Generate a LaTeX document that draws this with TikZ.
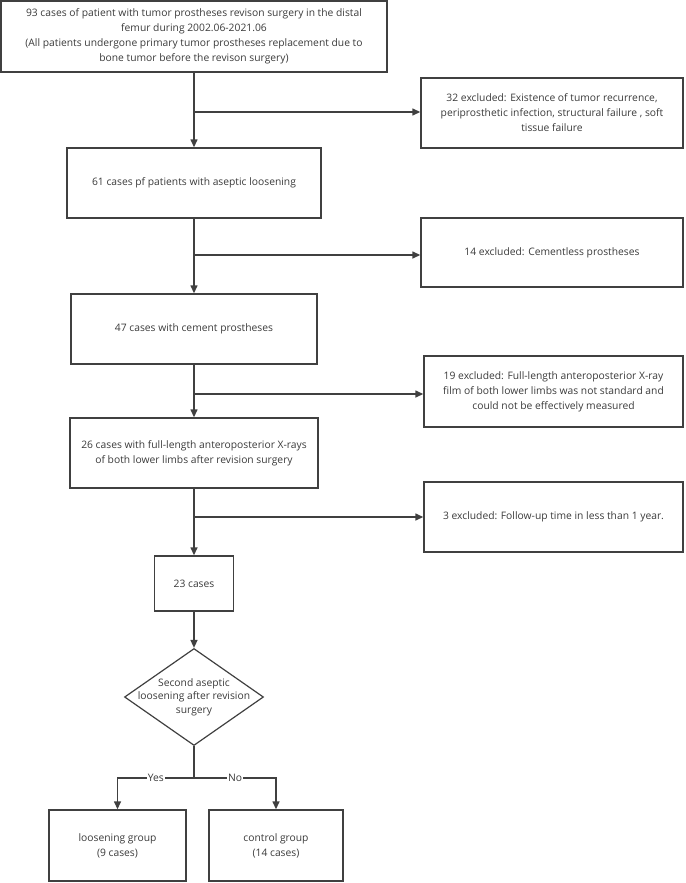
\documentclass[tikz,border=0pt]{standalone}
\usepackage{fontspec}
\setmainfont{Open Sans}
\usetikzlibrary{shapes.geometric,arrows.meta}
\definecolor{ln}{HTML}{404040}
\definecolor{tx}{HTML}{3A3A3A}
\tikzset{
  box/.style={draw=ln,line width=1.4pt,rectangle,align=center,inner sep=2pt,
    font=\fontsize{10.3}{15}\selectfont,text=tx},
  dia/.style={draw=ln,line width=1.2pt,diamond,inner sep=0pt},
  dtext/.style={align=center,inner sep=0pt,font=\fontsize{10.3}{13.5}\selectfont,text=tx},
  arr/.style={draw=ln,line width=1.4pt,-{Triangle[length=8pt,width=7pt]}},
  seg/.style={draw=ln,line width=1.4pt},
  lab/.style={fill=white,inner sep=1pt,font=\fontsize{10.3}{12}\selectfont,text=tx}
}
\begin{document}
\begin{tikzpicture}[x=1pt,y=-1pt]
\useasboundingbox (0,0) rectangle (685,883);
\node[box,minimum width=386pt,minimum height=71pt] (b1) at (194,36.5)
  {93 cases of patient with tumor prostheses revison surgery in the distal\\femur during 2002.06-2021.06\\(All patients undergone primary tumor prostheses replacement due to\\bone tumor before the revison surgery)};
\node[box,minimum width=262pt,minimum height=70pt] (e1) at (552,113)
  {32 excluded: Existence of tumor recurrence,\\periprosthetic infection, structural failure , soft\\tissue failure};
\node[box,minimum width=254pt,minimum height=70pt] (b2) at (194,183)
  {61 cases pf patients with aseptic loosening};
\node[box,minimum width=262pt,minimum height=69pt] (e2) at (552,252.5)
  {14 excluded: Cementless prostheses};
\node[box,minimum width=246pt,minimum height=70pt] (b3) at (194,329)
  {47 cases with cement prostheses};
\node[box,minimum width=259pt,minimum height=71pt] (e3) at (553.5,391.5)
  {19 excluded: Full-length anteroposterior X-ray\\film of both lower limbs was not standard and\\could not be effectively measured};
\node[box,minimum width=248pt,minimum height=70pt] (b4) at (194,453)
  {26 cases with full-length anteroposterior X-rays\\of both lower limbs after revision surgery};
\node[box,minimum width=259pt,minimum height=70pt] (e4) at (553.5,517)
  {3 excluded: Follow-up time in less than 1 year.};
\node[box,minimum width=79pt,minimum height=55pt] (b5) at (194,583.5)
  {23 cases};
\node[dia,minimum width=139pt,minimum height=97pt] (d) at (194,697) {};
\node[dtext] (dt) at (d.center)
  {Second aseptic\\loosening after revision\\surgery};
\node[box,minimum width=137pt,minimum height=71pt] (g1) at (117.5,845.5)
  {loosening group\\(9 cases)};
\node[box,minimum width=134pt,minimum height=71pt] (g2) at (276,845.5)
  {control group\\(14 cases)};
\coordinate (j1) at (194,112);
\coordinate (j2) at (194,255);
\coordinate (j3) at (194,394);
\coordinate (j4) at (194,517);
\coordinate (s) at (194,778);
\draw[arr] (b1) -- (b2);
\draw[arr] (j1) -- (e1.west |- j1);
\draw[arr] (b2) -- (b3);
\draw[arr] (j2) -- (e2.west |- j2);
\draw[arr] (b3) -- (b4);
\draw[arr] (j3) -- (e3.west |- j3);
\draw[arr] (b4) -- (b5);
\draw[arr] (j4) -- (e4.west |- j4);
\draw[arr] (b5) -- (d);
\draw[seg] (d.south) -- (s);
\draw[arr] (s) -- node[lab,pos=0.5]{Yes} (g1.north |- s) -- (g1.north);
\draw[arr] (s) -- node[lab,pos=0.5]{No} (g2.north |- s) -- (g2.north);
\end{tikzpicture}
\end{document}
